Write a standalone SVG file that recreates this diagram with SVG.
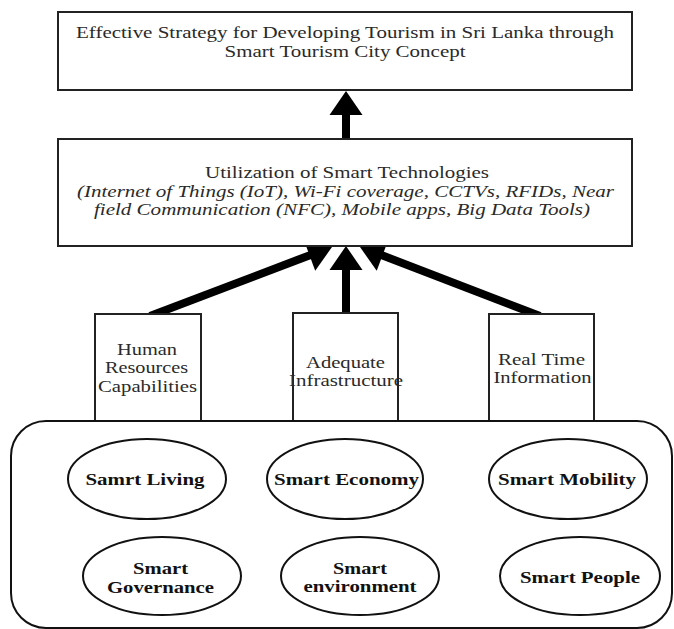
<svg xmlns="http://www.w3.org/2000/svg" width="674" height="629" viewBox="0 0 674 629" font-family="Liberation Serif, DejaVu Serif, serif">
<style>
.box{fill:#fff;stroke:#222;stroke-width:2}
.ell{fill:#fff;stroke:#111;stroke-width:2}
text{font-family:'Liberation Serif','DejaVu Serif',serif}
.t{font-size:16px;fill:#2a2a2a;text-anchor:middle}
.i{font-style:italic}
.b{font-weight:bold;fill:#111}
.sh{stroke:#000;stroke-width:8;fill:none}
.hd{fill:#000}
</style>
<rect width="674" height="629" fill="#fff"/>
<g id="connectors">
<line class="sh" x1="346" y1="138" x2="346" y2="110"/>
<polygon class="hd" points="346,91 362.5,115 329.5,115"/>
<line class="sh" x1="346" y1="314" x2="346" y2="265"/>
<polygon class="hd" points="346,246 362.5,270 329.5,270"/>
<line class="sh" x1="150" y1="316" x2="313.2" y2="253.9"/>
<polygon class="hd" points="332,247 315.2,270.8 303.8,239.8"/>
<line class="sh" x1="540" y1="316" x2="378.7" y2="254"/>
<polygon class="hd" points="360,247 388.3,239.9 376.7,270.8"/>
</g>
<g id="goal">
<rect class="box" x="58" y="12" width="574" height="78"/>
<text class="t" x="345" y="38" textLength="538" lengthAdjust="spacingAndGlyphs">Effective Strategy for Developing Tourism in Sri Lanka through</text>
<text class="t" x="345" y="57" textLength="241" lengthAdjust="spacingAndGlyphs">Smart Tourism City Concept</text>
</g>
<g id="technologies">
<rect class="box" x="58" y="139" width="574" height="107"/>
<text class="t" x="347" y="178" textLength="284" lengthAdjust="spacingAndGlyphs">Utilization of Smart Technologies</text>
<text class="t i" x="345.5" y="197" textLength="537" lengthAdjust="spacingAndGlyphs">(Internet of Things (IoT), Wi-Fi coverage, CCTVs, RFIDs, Near</text>
<text class="t i" x="342" y="215" textLength="496" lengthAdjust="spacingAndGlyphs">field Communication (NFC), Mobile apps, Big Data Tools)</text>
</g>
<g id="human">
<rect class="box" x="95" y="314" width="106" height="107"/>
<text class="t" x="147" y="355" textLength="60" lengthAdjust="spacingAndGlyphs">Human</text>
<text class="t" x="146.5" y="373" textLength="83" lengthAdjust="spacingAndGlyphs">Resources</text>
<text class="t" x="147.5" y="392" textLength="99" lengthAdjust="spacingAndGlyphs">Capabilities</text>
</g>
<g id="infrastructure">
<rect class="box" x="293" y="313" width="105" height="108"/>
<text class="t" x="345.5" y="368" textLength="79" lengthAdjust="spacingAndGlyphs">Adequate</text>
<text class="t" x="346" y="386" textLength="114" lengthAdjust="spacingAndGlyphs">Infrastructure</text>
</g>
<g id="realtime">
<rect class="box" x="489" y="314" width="105" height="107"/>
<text class="t" x="541.5" y="365" textLength="87" lengthAdjust="spacingAndGlyphs">Real Time</text>
<text class="t" x="542.5" y="383" textLength="98" lengthAdjust="spacingAndGlyphs">Information</text>
</g>
<g id="container">
<rect x="11" y="421" width="661" height="207" rx="35" ry="35" fill="none" stroke="#111" stroke-width="2"/>
</g>
<g id="living">
<ellipse class="ell" cx="147" cy="479" rx="79" ry="40"/>
<text class="t b" x="145" y="485" textLength="119" lengthAdjust="spacingAndGlyphs">Samrt Living</text>
</g>
<g id="economy">
<ellipse class="ell" cx="345" cy="479" rx="78" ry="40"/>
<text class="t b" x="346.5" y="485" textLength="145" lengthAdjust="spacingAndGlyphs">Smart Economy</text>
</g>
<g id="mobility">
<ellipse class="ell" cx="568" cy="479" rx="79" ry="40"/>
<text class="t b" x="567" y="485" textLength="138" lengthAdjust="spacingAndGlyphs">Smart Mobility</text>
</g>
<g id="governance">
<ellipse class="ell" cx="162" cy="576" rx="79" ry="39"/>
<text class="t b" x="160.5" y="574" textLength="55" lengthAdjust="spacingAndGlyphs">Smart</text>
<text class="t b" x="160.5" y="593" textLength="107" lengthAdjust="spacingAndGlyphs">Governance</text>
</g>
<g id="environment">
<ellipse class="ell" cx="360" cy="576" rx="79" ry="39"/>
<text class="t b" x="360" y="574" textLength="54" lengthAdjust="spacingAndGlyphs">Smart</text>
<text class="t b" x="360" y="592" textLength="113" lengthAdjust="spacingAndGlyphs">environment</text>
</g>
<g id="people">
<ellipse class="ell" cx="580" cy="576" rx="80" ry="39"/>
<text class="t b" x="580" y="583" textLength="120" lengthAdjust="spacingAndGlyphs">Smart People</text>
</g>
</svg>
